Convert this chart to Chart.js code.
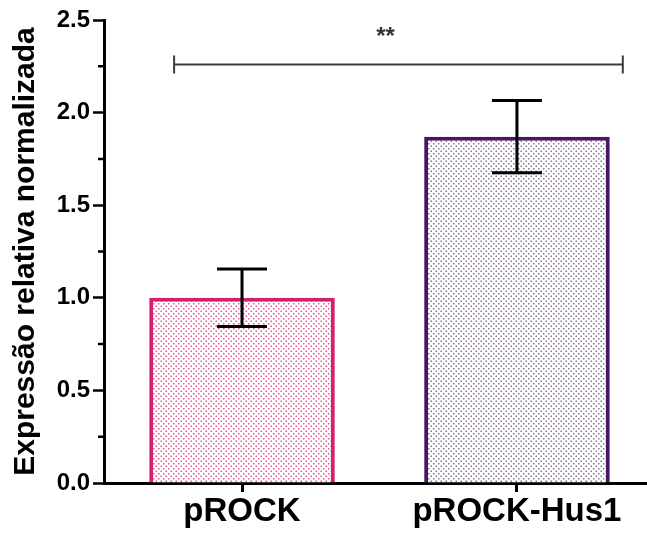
<!DOCTYPE html>
<html>
<head>
<meta charset="utf-8">
<script src="https://cdn.jsdelivr.net/npm/chart.js@4"></script>
<style>
  html, body { margin: 0; padding: 0; background: #fff; }
  #chart { display: block; }
</style>
</head>
<body>
<canvas id="chart" width="647" height="535"></canvas>
<script>
// data
const categories = ["pROCK", "pROCK-Hus1"];
const means = [1.0, 1.87];
const sem = [0.155, 0.195];
const yTicks = [0, 0.5, 1.0, 1.5, 2.0, 2.5];
const minorTicks = [0.25, 0.75, 1.25, 1.75, 2.25];
const sigFrom = -0.247;   // bracket ends, in category units
const sigTo = 1.385;
const sigLevel = 2.26;
const sigLabel = "**";

const borderColors = ["#d4206e", "#4b1468"];
const dotColors = ["#dc5a95", "#857590"];
const FONT = "'Liberation Sans', Arial, sans-serif";

const makeDots = (color) => {
    const c = document.createElement("canvas");
    c.width = 5;
    c.height = 5;
    const g = c.getContext("2d");
    g.fillStyle = "#fff";
    g.fillRect(0, 0, 5, 5);
    g.fillStyle = color;
    g.fillRect(0.5, 0.5, 1.5, 1.5);
    g.fillRect(3, 3, 1.5, 1.5);
    return g.createPattern(c, "repeat");
};

const ctx = document.querySelector("#chart").getContext("2d");

const extras = {
    id: "extras",
    afterDatasetsDraw(chart) {
        const x = chart.scales.x;
        const y = chart.scales.y;
        const g = chart.ctx;
        g.save();

        // error bars
        g.strokeStyle = "#000";
        g.lineWidth = 3;
        means.forEach((m, i) => {
            const px = x.getPixelForValue(i);
            const top = y.getPixelForValue(m + sem[i]);
            const bot = y.getPixelForValue(m - sem[i]);
            g.beginPath();
            g.moveTo(px, top);
            g.lineTo(px, bot);
            g.moveTo(px - 25, top);
            g.lineTo(px + 25, top);
            g.moveTo(px - 25, bot);
            g.lineTo(px + 25, bot);
            g.stroke();
        });

        // significance bracket
        const x1 = x.getPixelForValue(sigFrom);
        const x2 = x.getPixelForValue(sigTo);
        const by = y.getPixelForValue(sigLevel);
        g.strokeStyle = "#3c3c3c";
        g.lineWidth = 2;
        g.beginPath();
        g.moveTo(x1, by);
        g.lineTo(x2, by);
        g.moveTo(x1, by - 9);
        g.lineTo(x1, by + 9);
        g.moveTo(x2, by - 9);
        g.lineTo(x2, by + 9);
        g.stroke();
        g.fillStyle = "#333";
        g.font = "bold 24px " + FONT;
        g.textAlign = "center";
        g.textBaseline = "middle";
        g.fillText(sigLabel, (x.getPixelForValue(0) + x.getPixelForValue(1)) / 2 + 6, by - 27);

        // minor ticks on the y axis
        g.strokeStyle = "#000";
        g.lineWidth = 2.5;
        g.beginPath();
        minorTicks.forEach((v) => {
            const py = y.getPixelForValue(v);
            g.moveTo(y.right - 6, py);
            g.lineTo(y.right, py);
        });
        g.stroke();
        g.restore();
    },
};

new Chart(ctx, {
    type: "bar",
    data: {
        datasets: [
            {
                data: means.map((m, i) => ({ x: i, y: m })),
                backgroundColor: dotColors.map(makeDots),
                borderColor: borderColors,
                borderWidth: 4,
                borderSkipped: "bottom",
                barPercentage: 0.675,
                categoryPercentage: 1,
            },
        ],
    },
    options: {
        responsive: false,
        animation: false,
        layout: { padding: { top: 20, right: 0, left: 0, bottom: 0 } },
        plugins: {
            legend: { display: false },
            tooltip: { enabled: false },
        },
        scales: {
            x: {
                type: "linear",
                offset: false,
                min: -0.502,
                max: 1.473,
                afterBuildTicks: (s) => { s.ticks = categories.map((c, i) => ({ value: i })); },
                grid: {
                    offset: false,
                    drawOnChartArea: false,
                    tickLength: 9,
                    tickWidth: 3,
                    tickColor: "#000",
                },
                border: { color: "#000", width: 3 },
                ticks: {
                    color: "#000",
                    padding: 0,
                    callback: (v) => categories[v],
                    font: { family: FONT, size: 33, weight: "bold" },
                },
                afterFit: (s) => { s.height = 52; },
            },
            y: {
                min: 0,
                max: 2.5,
                afterBuildTicks: (s) => { s.ticks = yTicks.map((v) => ({ value: v })); },
                grid: {
                    drawOnChartArea: false,
                    tickLength: 11,
                    tickWidth: 2.5,
                    tickColor: "#000",
                },
                border: { color: "#000", width: 3 },
                ticks: {
                    color: "#000",
                    padding: 3,
                    callback: (v) => Number(v).toFixed(1),
                    font: { family: FONT, size: 24, weight: "bold" },
                },
                title: {
                    display: true,
                    text: "Expressão relativa normalizada",
                    color: "#000",
                    padding: { top: 8, bottom: 2 },
                    font: { family: FONT, size: 30, weight: "bold" },
                },
                afterFit: (s) => { s.width = 104; },
            },
        },
    },
    plugins: [extras],
});
</script>
</body>
</html>
